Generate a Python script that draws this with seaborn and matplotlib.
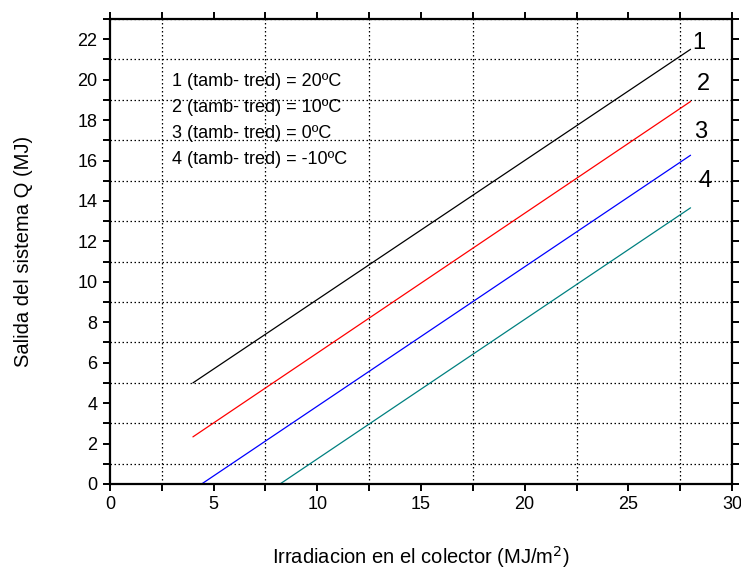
import matplotlib
matplotlib.use("Agg")
import matplotlib.pyplot as plt
from matplotlib.ticker import MultipleLocator
import pandas as pd
import seaborn as sns

# Curve endpoints (irradiation MJ/m2, system output MJ)
curve_ids = ["1", "2", "3", "4"]
x_values = [[4.0, 28.0], [4.0, 28.0], [4.42, 28.0], [8.2, 28.0]]
y_values = [[5.0, 21.5], [2.33, 18.92], [0.0, 16.26], [0.0, 13.66]]
curve_colors = ["#000000", "#ff0000", "#0000ff", "#008080"]
legend_lines = [
    "1 (tamb- tred) = 20ºC",
    "2 (tamb- tred) = 10ºC",
    "3 (tamb- tred) = 0ºC",
    "4 (tamb- tred) = -10ºC",
]
label_pos = [(28.4, 21.8), (28.6, 19.8), (28.5, 17.4), (28.7, 15.0)]

sns.set_theme(style="ticks")
plt.rcParams["font.family"] = ["Liberation Sans", "DejaVu Sans"]
for key in ("text.color", "axes.labelcolor", "xtick.color", "ytick.color", "axes.edgecolor"):
    plt.rcParams[key] = "black"

rows = []
for cid, xs, ys in zip(curve_ids, x_values, y_values):
    for xv, yv in zip(xs, ys):
        rows.append({"curve": cid, "irr": xv, "q": yv})
df = pd.DataFrame(rows)

fig = plt.figure(figsize=(7.41, 5.70), dpi=100)
ax = fig.add_axes([0.1484, 0.1509, 0.9879 - 0.1484, 0.9667 - 0.1509])

sns.lineplot(data=df, x="irr", y="q", hue="curve", palette=dict(zip(curve_ids, curve_colors)),
             legend=False, linewidth=0.9, ax=ax, sort=False, estimator=None)

ax.set_xlim(0, 30)
ax.set_ylim(0, 23)
ax.xaxis.set_major_locator(MultipleLocator(5))
ax.xaxis.set_minor_locator(MultipleLocator(2.5))
ax.yaxis.set_major_locator(MultipleLocator(2))
ax.yaxis.set_minor_locator(MultipleLocator(1))

ax.grid(False)
ax.grid(which="minor", color="black", linestyle=(0, (1.2, 2.0)), linewidth=0.9)

for s in ax.spines.values():
    s.set_visible(True)
    s.set_linewidth(1.6)
    s.set_color("black")

ax.tick_params(which="both", direction="out", length=5, width=1.4, color="black",
               top=True, right=True, labeltop=False, labelright=False)
ax.tick_params(which="major", labelsize=13, pad=4)

ax.set_xlabel("Irradiacion en el colector (MJ/m$^2$)", fontsize=14.5, labelpad=22)
ax.set_ylabel("Salida del sistema Q (MJ)", fontsize=14.5, labelpad=32)

for i, line in enumerate(legend_lines):
    ax.text(2.97, 19.9 - i * 1.28, line, fontsize=13, va="center", ha="left")

for cid, (px, py) in zip(curve_ids, label_pos):
    ax.text(px, py, cid, fontsize=17, ha="center", va="center", clip_on=False)

fig.savefig("out.png", dpi=100, facecolor="white")
